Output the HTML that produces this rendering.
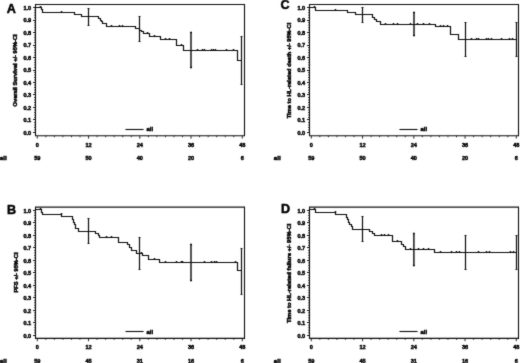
<!DOCTYPE html>
<html><head><meta charset="utf-8"><title>Kaplan-Meier curves</title>
<style>
html,body{margin:0;padding:0;background:#fff;}
body{width:520px;height:363px;overflow:hidden;}
svg{display:block;}
#wrap{width:520px;height:363px;will-change:transform;}
text{font-family:"Liberation Sans", sans-serif;font-weight:bold;fill:#000;stroke:#000;stroke-width:0.45px;}
.tk{font-size:5.6px;}
.lt{font-size:12.6px;stroke-width:0.5px;}
.yl{font-size:4.8px;}
</style></head>
<body>
<div id="wrap">
<svg width="520" height="363" viewBox="0 0 520 363">
<defs><filter id="soft" x="0" y="0" width="520" height="363" filterUnits="userSpaceOnUse"><feConvolveMatrix order="3" kernelMatrix="0.02 0.08 0.02 0.08 0.6 0.08 0.02 0.08 0.02" divisor="1" preserveAlpha="false" edgeMode="none"/></filter></defs>
<rect x="0" y="0" width="520" height="363" fill="#fff"/>
<g filter="url(#soft)">
<path d="M35.5 4.5H244.5V135.8H35.5Z" fill="none" stroke="#111" stroke-width="1.1"/>
<path d="M33.1 132.5H35.5M33.1 119.5H35.5M33.1 107.5H35.5M33.1 94.5H35.5M33.1 82.5H35.5M33.1 70.5H35.5M33.1 57.5H35.5M33.1 45.5H35.5M33.1 32.5H35.5M33.1 20.5H35.5M33.1 7.5H35.5" stroke="#111" stroke-width="1"/>
<path d="M34.1 129.91H35.5M34.1 127.41H35.5M34.1 124.92H35.5M34.1 122.42H35.5M34.1 117.44H35.5M34.1 114.94H35.5M34.1 112.45H35.5M34.1 109.95H35.5M34.1 104.97H35.5M34.1 102.47H35.5M34.1 99.98H35.5M34.1 97.48H35.5M34.1 92.5H35.5M34.1 90H35.5M34.1 87.51H35.5M34.1 85.01H35.5M34.1 80.03H35.5M34.1 77.53H35.5M34.1 75.04H35.5M34.1 72.54H35.5M34.1 67.56H35.5M34.1 65.06H35.5M34.1 62.57H35.5M34.1 60.07H35.5M34.1 55.09H35.5M34.1 52.59H35.5M34.1 50.1H35.5M34.1 47.6H35.5M34.1 42.62H35.5M34.1 40.12H35.5M34.1 37.63H35.5M34.1 35.13H35.5M34.1 30.15H35.5M34.1 27.65H35.5M34.1 25.16H35.5M34.1 22.66H35.5M34.1 17.68H35.5M34.1 15.18H35.5M34.1 12.69H35.5M34.1 10.19H35.5" stroke="#111" stroke-width="0.9"/>
<path d="M37.3 135.8V138.6M45.84 135.8V137.2M54.38 135.8V137.2M62.92 135.8V137.2M71.47 135.8V137.2M80.01 135.8V137.2M88.55 135.8V138.6M97.09 135.8V137.2M105.63 135.8V137.2M114.17 135.8V137.2M122.72 135.8V137.2M131.26 135.8V137.2M139.8 135.8V138.6M148.34 135.8V137.2M156.88 135.8V137.2M165.43 135.8V137.2M173.97 135.8V137.2M182.51 135.8V137.2M191.05 135.8V138.6M199.59 135.8V137.2M208.13 135.8V137.2M216.68 135.8V137.2M225.22 135.8V137.2M233.76 135.8V137.2M242.3 135.8V138.6" stroke="#111" stroke-width="0.9"/>
<text x="31.2" y="134.7" class="tk" text-anchor="end">0.0</text>
<text x="31.2" y="122.23" class="tk" text-anchor="end">0.1</text>
<text x="31.2" y="109.76" class="tk" text-anchor="end">0.2</text>
<text x="31.2" y="97.29" class="tk" text-anchor="end">0.3</text>
<text x="31.2" y="84.82" class="tk" text-anchor="end">0.4</text>
<text x="31.2" y="72.35" class="tk" text-anchor="end">0.5</text>
<text x="31.2" y="59.88" class="tk" text-anchor="end">0.6</text>
<text x="31.2" y="47.41" class="tk" text-anchor="end">0.7</text>
<text x="31.2" y="34.94" class="tk" text-anchor="end">0.8</text>
<text x="31.2" y="22.47" class="tk" text-anchor="end">0.9</text>
<text x="31.2" y="10" class="tk" text-anchor="end">1.0</text>
<text x="37.3" y="146.7" class="tk" text-anchor="middle">0</text>
<text x="37.3" y="160.3" class="tk" text-anchor="middle">59</text>
<text x="88.55" y="146.7" class="tk" text-anchor="middle">12</text>
<text x="88.55" y="160.3" class="tk" text-anchor="middle">50</text>
<text x="139.8" y="146.7" class="tk" text-anchor="middle">24</text>
<text x="139.8" y="160.3" class="tk" text-anchor="middle">40</text>
<text x="191.05" y="146.7" class="tk" text-anchor="middle">36</text>
<text x="191.05" y="160.3" class="tk" text-anchor="middle">20</text>
<text x="242.3" y="146.7" class="tk" text-anchor="middle">48</text>
<text x="242.3" y="160.3" class="tk" text-anchor="middle">6</text>
<text x="-0.2" y="159.9" class="tk" textLength="6.9" lengthAdjust="spacingAndGlyphs">all</text>
<path d="M125.4 129.5H143.6" stroke="#111" stroke-width="1.1"/>
<text x="146.4" y="131.4" class="tk" textLength="6.8" lengthAdjust="spacingAndGlyphs">all</text>
<text x="6.8" y="13" class="lt">A</text>
<text transform="translate(17.4 70.4) rotate(-90)" class="yl" text-anchor="middle" textLength="72" lengthAdjust="spacingAndGlyphs">Overall Survival +/- 95%-CI</text>
<path d="M35.5 7.5H41.5V9.5H42.5V12.5H74.5V14.5H81.5V16.5H98.5V18.5H100.5V20.5H101.5V21.5H102.5V23.5H106.5V26.5H135.5V28.5H139.5V30.5H141.5V31.5H143.5V33.5H149.5V36.5H160.5V39.5H176.5V45.5H183.5V50.5H237.5V60.5H241.5" fill="none" stroke="#111" stroke-width="1.2"/>
<path d="M40.5 7.5V6M61.5 12.5V11M111.5 26.5V25M119.5 26.5V25M122.5 26.5V25M147.5 33.5V32M154.5 36.5V35M165.5 39.5V38M169.5 39.5V38M181.5 45.5V44M197.5 50.5V49M202.5 50.5V49M204.5 50.5V49M211.5 50.5V49M213.5 50.5V49M215.5 50.5V49M226.5 50.5V49M233.5 50.5V49" stroke="#111" stroke-width="1.5"/>
<path d="M88.5 8.5V25.5M87.5 8.5H89.5M87.5 25.5H89.5" stroke="#111" stroke-width="1.2"/>
<path d="M139.5 16.5V41.5M138.5 16.5H140.5M138.5 41.5H140.5" stroke="#111" stroke-width="1.2"/>
<path d="M191 32.5V67.5M190 32.5H192M190 67.5H192" stroke="#111" stroke-width="1.45"/>
<path d="M241.5 36.5V84.5M240.5 36.5H242.5M240.5 84.5H242.5" stroke="#111" stroke-width="1.2"/>
<path d="M309.5 4.5H518.5V135.8H309.5Z" fill="none" stroke="#111" stroke-width="1.1"/>
<path d="M307.1 132.5H309.5M307.1 119.5H309.5M307.1 107.5H309.5M307.1 94.5H309.5M307.1 82.5H309.5M307.1 70.5H309.5M307.1 57.5H309.5M307.1 45.5H309.5M307.1 32.5H309.5M307.1 20.5H309.5M307.1 7.5H309.5" stroke="#111" stroke-width="1"/>
<path d="M308.1 129.91H309.5M308.1 127.41H309.5M308.1 124.92H309.5M308.1 122.42H309.5M308.1 117.44H309.5M308.1 114.94H309.5M308.1 112.45H309.5M308.1 109.95H309.5M308.1 104.97H309.5M308.1 102.47H309.5M308.1 99.98H309.5M308.1 97.48H309.5M308.1 92.5H309.5M308.1 90H309.5M308.1 87.51H309.5M308.1 85.01H309.5M308.1 80.03H309.5M308.1 77.53H309.5M308.1 75.04H309.5M308.1 72.54H309.5M308.1 67.56H309.5M308.1 65.06H309.5M308.1 62.57H309.5M308.1 60.07H309.5M308.1 55.09H309.5M308.1 52.59H309.5M308.1 50.1H309.5M308.1 47.6H309.5M308.1 42.62H309.5M308.1 40.12H309.5M308.1 37.63H309.5M308.1 35.13H309.5M308.1 30.15H309.5M308.1 27.65H309.5M308.1 25.16H309.5M308.1 22.66H309.5M308.1 17.68H309.5M308.1 15.18H309.5M308.1 12.69H309.5M308.1 10.19H309.5" stroke="#111" stroke-width="0.9"/>
<path d="M311.3 135.8V138.6M319.84 135.8V137.2M328.38 135.8V137.2M336.93 135.8V137.2M345.47 135.8V137.2M354.01 135.8V137.2M362.55 135.8V138.6M371.09 135.8V137.2M379.63 135.8V137.2M388.18 135.8V137.2M396.72 135.8V137.2M405.26 135.8V137.2M413.8 135.8V138.6M422.34 135.8V137.2M430.88 135.8V137.2M439.42 135.8V137.2M447.97 135.8V137.2M456.51 135.8V137.2M465.05 135.8V138.6M473.59 135.8V137.2M482.13 135.8V137.2M490.67 135.8V137.2M499.22 135.8V137.2M507.76 135.8V137.2M516.3 135.8V138.6" stroke="#111" stroke-width="0.9"/>
<text x="305.2" y="134.7" class="tk" text-anchor="end">0.0</text>
<text x="305.2" y="122.23" class="tk" text-anchor="end">0.1</text>
<text x="305.2" y="109.76" class="tk" text-anchor="end">0.2</text>
<text x="305.2" y="97.29" class="tk" text-anchor="end">0.3</text>
<text x="305.2" y="84.82" class="tk" text-anchor="end">0.4</text>
<text x="305.2" y="72.35" class="tk" text-anchor="end">0.5</text>
<text x="305.2" y="59.88" class="tk" text-anchor="end">0.6</text>
<text x="305.2" y="47.41" class="tk" text-anchor="end">0.7</text>
<text x="305.2" y="34.94" class="tk" text-anchor="end">0.8</text>
<text x="305.2" y="22.47" class="tk" text-anchor="end">0.9</text>
<text x="305.2" y="10" class="tk" text-anchor="end">1.0</text>
<text x="311.3" y="146.7" class="tk" text-anchor="middle">0</text>
<text x="311.3" y="160.3" class="tk" text-anchor="middle">59</text>
<text x="362.55" y="146.7" class="tk" text-anchor="middle">12</text>
<text x="362.55" y="160.3" class="tk" text-anchor="middle">50</text>
<text x="413.8" y="146.7" class="tk" text-anchor="middle">24</text>
<text x="413.8" y="160.3" class="tk" text-anchor="middle">40</text>
<text x="465.05" y="146.7" class="tk" text-anchor="middle">36</text>
<text x="465.05" y="160.3" class="tk" text-anchor="middle">20</text>
<text x="516.3" y="146.7" class="tk" text-anchor="middle">48</text>
<text x="516.3" y="160.3" class="tk" text-anchor="middle">6</text>
<text x="273.8" y="159.9" class="tk" textLength="6.9" lengthAdjust="spacingAndGlyphs">all</text>
<path d="M399.4 129.5H417.6" stroke="#111" stroke-width="1.1"/>
<text x="420.4" y="131.4" class="tk" textLength="6.8" lengthAdjust="spacingAndGlyphs">all</text>
<text x="280.5" y="9.4" class="lt">C</text>
<text transform="translate(291.4 70.5) rotate(-90)" class="yl" text-anchor="middle" textLength="95.5" lengthAdjust="spacingAndGlyphs">Time to HL-related death +/- 95%-CI</text>
<path d="M309.5 7.5H315.5V10.5H347.5V12.5H355.5V14.5H372.5V17.5H374.5V19.5H376.5V21.5H380.5V24.5H435.5V26.5H450.5V34.5H458.5V39.5H516.5" fill="none" stroke="#111" stroke-width="1.2"/>
<path d="M314.5 7.5V6M335.5 10.5V9M385.5 24.5V23M393.5 24.5V23M397.5 24.5V23M410.5 24.5V23M417.5 24.5V23M423.5 24.5V23M429.5 24.5V23M440.5 26.5V25M443.5 26.5V25M447.5 26.5V25M471.5 39.5V38M476.5 39.5V38M478.5 39.5V38M486.5 39.5V38M488.5 39.5V38M491.5 39.5V38M501.5 39.5V38M509.5 39.5V38M512.5 39.5V38" stroke="#111" stroke-width="1.5"/>
<path d="M362.5 7.5V22.5M361.5 7.5H363.5M361.5 22.5H363.5" stroke="#111" stroke-width="1.2"/>
<path d="M414 12.5V35.5M413 12.5H415M413 35.5H415" stroke="#111" stroke-width="1.45"/>
<path d="M465.5 22.5V56.5M464.5 22.5H466.5M464.5 56.5H466.5" stroke="#111" stroke-width="1.2"/>
<path d="M516.5 22.5V56.5M515.5 22.5H517.5M515.5 56.5H517.5" stroke="#111" stroke-width="1.2"/>
<path d="M35.5 207.1H244.5V338.4H35.5Z" fill="none" stroke="#111" stroke-width="1.1"/>
<path d="M33.1 335.5H35.5M33.1 322.5H35.5M33.1 310.5H35.5M33.1 297.5H35.5M33.1 285.5H35.5M33.1 272.5H35.5M33.1 260.5H35.5M33.1 247.5H35.5M33.1 235.5H35.5M33.1 222.5H35.5M33.1 210.5H35.5" stroke="#111" stroke-width="1"/>
<path d="M34.1 332.71H35.5M34.1 330.21H35.5M34.1 327.72H35.5M34.1 325.22H35.5M34.1 320.24H35.5M34.1 317.74H35.5M34.1 315.25H35.5M34.1 312.75H35.5M34.1 307.77H35.5M34.1 305.27H35.5M34.1 302.78H35.5M34.1 300.28H35.5M34.1 295.3H35.5M34.1 292.8H35.5M34.1 290.31H35.5M34.1 287.81H35.5M34.1 282.83H35.5M34.1 280.33H35.5M34.1 277.84H35.5M34.1 275.34H35.5M34.1 270.36H35.5M34.1 267.86H35.5M34.1 265.37H35.5M34.1 262.87H35.5M34.1 257.89H35.5M34.1 255.39H35.5M34.1 252.9H35.5M34.1 250.4H35.5M34.1 245.42H35.5M34.1 242.92H35.5M34.1 240.43H35.5M34.1 237.93H35.5M34.1 232.95H35.5M34.1 230.45H35.5M34.1 227.96H35.5M34.1 225.46H35.5M34.1 220.48H35.5M34.1 217.98H35.5M34.1 215.49H35.5M34.1 212.99H35.5" stroke="#111" stroke-width="0.9"/>
<path d="M37.3 338.4V341.2M45.84 338.4V339.8M54.38 338.4V339.8M62.92 338.4V339.8M71.47 338.4V339.8M80.01 338.4V339.8M88.55 338.4V341.2M97.09 338.4V339.8M105.63 338.4V339.8M114.17 338.4V339.8M122.72 338.4V339.8M131.26 338.4V339.8M139.8 338.4V341.2M148.34 338.4V339.8M156.88 338.4V339.8M165.43 338.4V339.8M173.97 338.4V339.8M182.51 338.4V339.8M191.05 338.4V341.2M199.59 338.4V339.8M208.13 338.4V339.8M216.68 338.4V339.8M225.22 338.4V339.8M233.76 338.4V339.8M242.3 338.4V341.2" stroke="#111" stroke-width="0.9"/>
<text x="31.2" y="337.5" class="tk" text-anchor="end">0.0</text>
<text x="31.2" y="325.03" class="tk" text-anchor="end">0.1</text>
<text x="31.2" y="312.56" class="tk" text-anchor="end">0.2</text>
<text x="31.2" y="300.09" class="tk" text-anchor="end">0.3</text>
<text x="31.2" y="287.62" class="tk" text-anchor="end">0.4</text>
<text x="31.2" y="275.15" class="tk" text-anchor="end">0.5</text>
<text x="31.2" y="262.68" class="tk" text-anchor="end">0.6</text>
<text x="31.2" y="250.21" class="tk" text-anchor="end">0.7</text>
<text x="31.2" y="237.74" class="tk" text-anchor="end">0.8</text>
<text x="31.2" y="225.27" class="tk" text-anchor="end">0.9</text>
<text x="31.2" y="212.8" class="tk" text-anchor="end">1.0</text>
<text x="37.3" y="349.3" class="tk" text-anchor="middle">0</text>
<text x="37.3" y="362.9" class="tk" text-anchor="middle">59</text>
<text x="88.55" y="349.3" class="tk" text-anchor="middle">12</text>
<text x="88.55" y="362.9" class="tk" text-anchor="middle">45</text>
<text x="139.8" y="349.3" class="tk" text-anchor="middle">24</text>
<text x="139.8" y="362.9" class="tk" text-anchor="middle">31</text>
<text x="191.05" y="349.3" class="tk" text-anchor="middle">36</text>
<text x="191.05" y="362.9" class="tk" text-anchor="middle">16</text>
<text x="242.3" y="349.3" class="tk" text-anchor="middle">48</text>
<text x="242.3" y="362.9" class="tk" text-anchor="middle">6</text>
<text x="-0.2" y="362.5" class="tk" textLength="6.9" lengthAdjust="spacingAndGlyphs">all</text>
<path d="M125.4 331.5H143.6" stroke="#111" stroke-width="1.1"/>
<text x="146.4" y="334" class="tk" textLength="6.8" lengthAdjust="spacingAndGlyphs">all</text>
<text x="6.9" y="213.6" class="lt">B</text>
<text transform="translate(18.1 272.5) rotate(-90)" class="yl" text-anchor="middle" textLength="40" lengthAdjust="spacingAndGlyphs">PFS +/- 95%-CI</text>
<path d="M35.5 209.5H41.5V212.5H42.5V214.5H61.5V216.5H72.5V219.5H73.5V222.5H74.5V224.5H75.5V228.5H78.5V231.5H95.5V233.5H98.5V235.5H99.5V237.5H118.5V242.5H127.5V244.5H129.5V247.5H131.5V250.5H136.5V253.5H142.5V255.5H148.5V259.5H159.5V262.5H237.5V270.5H241.5" fill="none" stroke="#111" stroke-width="1.2"/>
<path d="M40.5 209.5V208M61.5 214.5V213M106.5 237.5V236M111.5 237.5V236M141.5 253.5V252M154.5 259.5V258M165.5 262.5V261M176.5 262.5V261M181.5 262.5V261M182.5 262.5V261M204.5 262.5V261M211.5 262.5V261M214.5 262.5V261M216.5 262.5V261M235.5 262.5V261" stroke="#111" stroke-width="1.5"/>
<path d="M88.5 218.5V243.5M87.5 218.5H89.5M87.5 243.5H89.5" stroke="#111" stroke-width="1.2"/>
<path d="M139.5 237.5V269.5M138.5 237.5H140.5M138.5 269.5H140.5" stroke="#111" stroke-width="1.2"/>
<path d="M191 244.5V280.5M190 244.5H192M190 280.5H192" stroke="#111" stroke-width="1.45"/>
<path d="M241.5 248.5V294.5M240.5 248.5H242.5M240.5 294.5H242.5" stroke="#111" stroke-width="1.2"/>
<path d="M309.5 207.1H518.5V338.4H309.5Z" fill="none" stroke="#111" stroke-width="1.1"/>
<path d="M307.1 335.5H309.5M307.1 322.5H309.5M307.1 310.5H309.5M307.1 297.5H309.5M307.1 285.5H309.5M307.1 272.5H309.5M307.1 260.5H309.5M307.1 247.5H309.5M307.1 235.5H309.5M307.1 222.5H309.5M307.1 210.5H309.5" stroke="#111" stroke-width="1"/>
<path d="M308.1 332.71H309.5M308.1 330.21H309.5M308.1 327.72H309.5M308.1 325.22H309.5M308.1 320.24H309.5M308.1 317.74H309.5M308.1 315.25H309.5M308.1 312.75H309.5M308.1 307.77H309.5M308.1 305.27H309.5M308.1 302.78H309.5M308.1 300.28H309.5M308.1 295.3H309.5M308.1 292.8H309.5M308.1 290.31H309.5M308.1 287.81H309.5M308.1 282.83H309.5M308.1 280.33H309.5M308.1 277.84H309.5M308.1 275.34H309.5M308.1 270.36H309.5M308.1 267.86H309.5M308.1 265.37H309.5M308.1 262.87H309.5M308.1 257.89H309.5M308.1 255.39H309.5M308.1 252.9H309.5M308.1 250.4H309.5M308.1 245.42H309.5M308.1 242.92H309.5M308.1 240.43H309.5M308.1 237.93H309.5M308.1 232.95H309.5M308.1 230.45H309.5M308.1 227.96H309.5M308.1 225.46H309.5M308.1 220.48H309.5M308.1 217.98H309.5M308.1 215.49H309.5M308.1 212.99H309.5" stroke="#111" stroke-width="0.9"/>
<path d="M311.3 338.4V341.2M319.84 338.4V339.8M328.38 338.4V339.8M336.93 338.4V339.8M345.47 338.4V339.8M354.01 338.4V339.8M362.55 338.4V341.2M371.09 338.4V339.8M379.63 338.4V339.8M388.18 338.4V339.8M396.72 338.4V339.8M405.26 338.4V339.8M413.8 338.4V341.2M422.34 338.4V339.8M430.88 338.4V339.8M439.42 338.4V339.8M447.97 338.4V339.8M456.51 338.4V339.8M465.05 338.4V341.2M473.59 338.4V339.8M482.13 338.4V339.8M490.67 338.4V339.8M499.22 338.4V339.8M507.76 338.4V339.8M516.3 338.4V341.2" stroke="#111" stroke-width="0.9"/>
<text x="305.2" y="337.5" class="tk" text-anchor="end">0.0</text>
<text x="305.2" y="325.03" class="tk" text-anchor="end">0.1</text>
<text x="305.2" y="312.56" class="tk" text-anchor="end">0.2</text>
<text x="305.2" y="300.09" class="tk" text-anchor="end">0.3</text>
<text x="305.2" y="287.62" class="tk" text-anchor="end">0.4</text>
<text x="305.2" y="275.15" class="tk" text-anchor="end">0.5</text>
<text x="305.2" y="262.68" class="tk" text-anchor="end">0.6</text>
<text x="305.2" y="250.21" class="tk" text-anchor="end">0.7</text>
<text x="305.2" y="237.74" class="tk" text-anchor="end">0.8</text>
<text x="305.2" y="225.27" class="tk" text-anchor="end">0.9</text>
<text x="305.2" y="212.8" class="tk" text-anchor="end">1.0</text>
<text x="311.3" y="349.3" class="tk" text-anchor="middle">0</text>
<text x="311.3" y="362.9" class="tk" text-anchor="middle">59</text>
<text x="362.55" y="349.3" class="tk" text-anchor="middle">12</text>
<text x="362.55" y="362.9" class="tk" text-anchor="middle">45</text>
<text x="413.8" y="349.3" class="tk" text-anchor="middle">24</text>
<text x="413.8" y="362.9" class="tk" text-anchor="middle">31</text>
<text x="465.05" y="349.3" class="tk" text-anchor="middle">36</text>
<text x="465.05" y="362.9" class="tk" text-anchor="middle">16</text>
<text x="516.3" y="349.3" class="tk" text-anchor="middle">48</text>
<text x="516.3" y="362.9" class="tk" text-anchor="middle">6</text>
<text x="273.8" y="362.5" class="tk" textLength="6.9" lengthAdjust="spacingAndGlyphs">all</text>
<path d="M399.4 331.5H417.6" stroke="#111" stroke-width="1.1"/>
<text x="420.4" y="334" class="tk" textLength="6.8" lengthAdjust="spacingAndGlyphs">all</text>
<text x="280.9" y="212.7" class="lt">D</text>
<text transform="translate(291.4 273.3) rotate(-90)" class="yl" text-anchor="middle" textLength="99.5" lengthAdjust="spacingAndGlyphs">Time to HL-related failure +/- 95%-CI</text>
<path d="M309.5 209.5H315.5V212.5H335.5V214.5H346.5V217.5H347.5V219.5H348.5V222.5H349.5V224.5H351.5V226.5H352.5V229.5H369.5V231.5H372.5V233.5H374.5V235.5H392.5V241.5H401.5V244.5H403.5V246.5H405.5V249.5H434.5V252.5H516.5" fill="none" stroke="#111" stroke-width="1.2"/>
<path d="M314.5 209.5V208M335.5 212.5V211M381.5 235.5V234M384.5 235.5V234M388.5 235.5V234M397.5 241.5V240M410.5 249.5V248M418.5 249.5V248M423.5 249.5V248M428.5 249.5V248M440.5 252.5V251M451.5 252.5V251M456.5 252.5V251M459.5 252.5V251M478.5 252.5V251M486.5 252.5V251M489.5 252.5V251M510.5 252.5V251M513.5 252.5V251" stroke="#111" stroke-width="1.5"/>
<path d="M362.5 216.5V241.5M361.5 216.5H363.5M361.5 241.5H363.5" stroke="#111" stroke-width="1.2"/>
<path d="M413.9 233.5V265.5M412.9 233.5H414.9M412.9 265.5H414.9" stroke="#111" stroke-width="1.45"/>
<path d="M465.5 235.5V269.5M464.5 235.5H466.5M464.5 269.5H466.5" stroke="#111" stroke-width="1.2"/>
<path d="M516.5 235.5V269.5M515.5 235.5H517.5M515.5 269.5H517.5" stroke="#111" stroke-width="1.2"/>
</g>
</svg>
</div>
</body></html>
